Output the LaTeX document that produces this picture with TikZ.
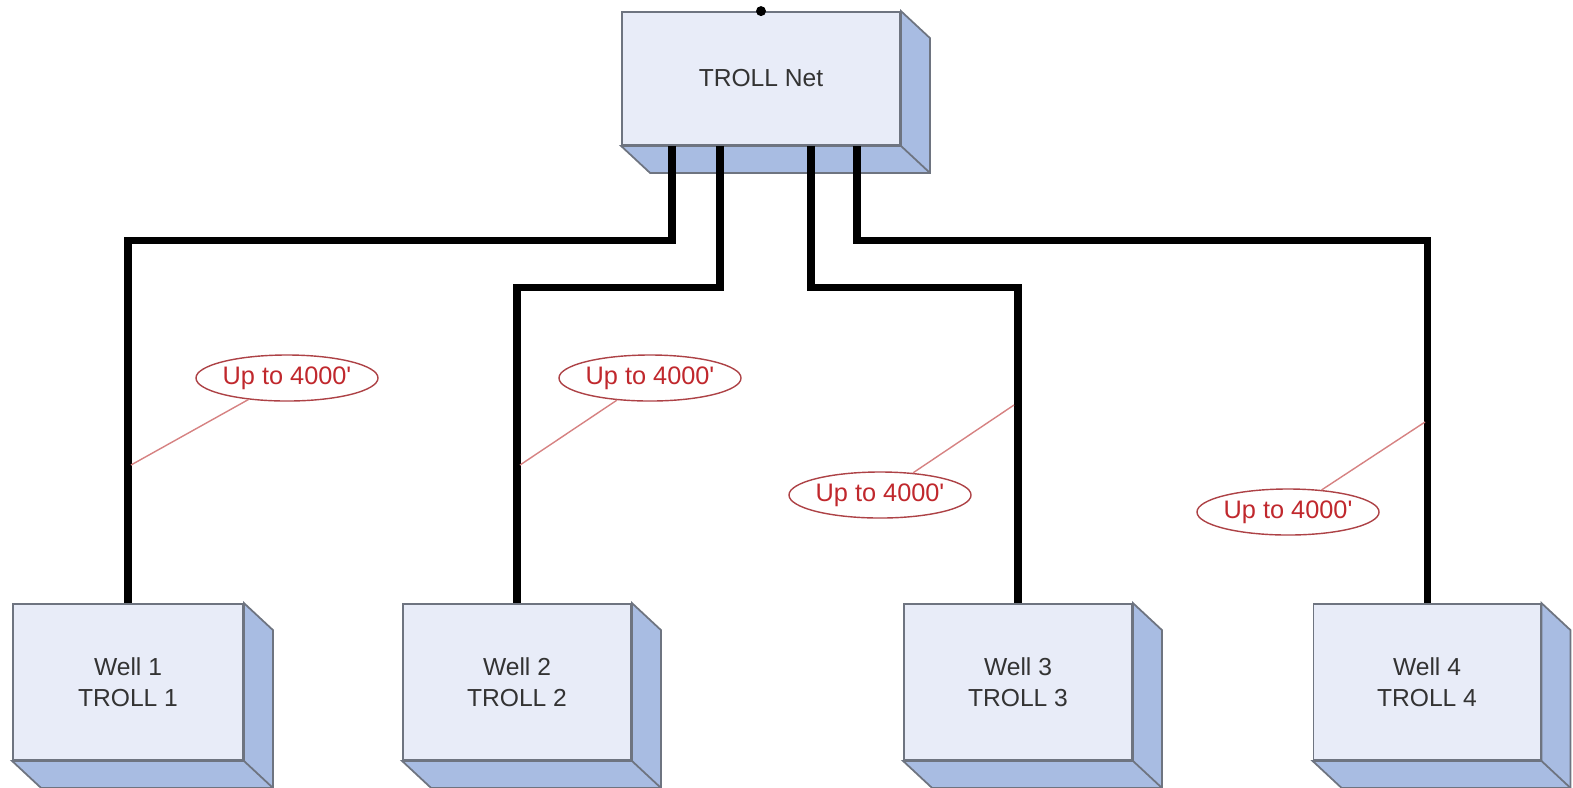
\documentclass[tikz,border=0pt]{standalone}
\usepackage{fontspec}
\setmainfont{Liberation Sans}
\usetikzlibrary{calc,shapes.geometric}

\definecolor{boxfront}{RGB}{232,236,248}
\definecolor{boxside}{RGB}{168,188,226}
\definecolor{boxline}{RGB}{110,116,128}
\definecolor{calloutred}{RGB}{192,40,45}
\definecolor{leaderred}{RGB}{214,130,130}

\tikzset{
  unit/.style={draw=boxline, fill=boxfront, line width=0.5pt, inner sep=0pt,
    align=center, text=black!80, font=\fontsize{7}{8.8}\selectfont},
  face/.style={draw=boxline, fill=boxside, line width=0.5pt},
  cable/.style={line width=2pt, line join=miter},
  callout/.style={ellipse, draw=calloutred!70!gray, line width=0.4pt, inner sep=0pt,
    minimum width=1.7cm, minimum height=0.46cm, text=calloutred,
    font=\fontsize{7.2}{8}\selectfont},
  leader/.style={draw=leaderred, line width=0.4pt}
}

\begin{document}
\begin{tikzpicture}[x=0.01cm, y=-0.01cm]
\useasboundingbox (0,0) rectangle (1573,787);

% boxes
\node[unit, minimum width=2.78cm, minimum height=1.33cm] (net) at (761,78.5) {TROLL Net};
\node[unit, minimum width=2.30cm, minimum height=1.56cm] (w1) at (128,682) {Well 1\\TROLL 1};
\node[unit, minimum width=2.28cm, minimum height=1.56cm] (w2) at (517,682) {Well 2\\TROLL 2};
\node[unit, minimum width=2.28cm, minimum height=1.56cm] (w3) at (1018,682) {Well 3\\TROLL 3};
\node[unit, minimum width=2.27cm, minimum height=1.56cm] (w4) at (1427,682) {Well 4\\TROLL 4};

% 3d sides
\foreach \n in {net,w1,w2,w3,w4} {
  \draw[face] (\n.north east) -- ++(29,27) -- ([shift={(29,27)}]\n.south east)
    -- ([shift={(29,27)}]\n.south west) -- (\n.south west) -- (\n.south east) -- cycle;
  \draw[boxline, line width=0.5pt] (\n.south east) -- ++(29,27);
}
\fill (net.north) circle (5);

% cables
\coordinate (p1) at ($(net.south)+(-89,0)$);
\coordinate (p2) at ($(net.south)+(-41,0)$);
\coordinate (p3) at ($(net.south)+(50,0)$);
\coordinate (p4) at ($(net.south)+(96,0)$);

\draw[cable] (p1) -- ++(0,95) -| (w1.north);
\draw[cable] (p2) -- ++(0,142) -| (w2.north);
\draw[cable] (p3) -- ++(0,142) -| (w3.north);
\draw[cable] (p4) -- ++(0,95) -| (w4.north);

% length callouts
\node[callout] (c1) at (287,378) {Up to 4000\textquotesingle};
\node[callout] (c2) at (650,378) {Up to 4000\textquotesingle};
\node[callout] (c3) at (880,495) {Up to 4000\textquotesingle};
\node[callout] (c4) at (1288,512) {Up to 4000\textquotesingle};

\coordinate (k1) at (131,465);
\coordinate (k2) at (520,465);
\coordinate (k3) at (1014,405);
\coordinate (k4) at (1425,422);

\draw[leader] (c1) -- (k1);
\draw[leader] (c2) -- (k2);
\draw[leader] (c3) -- (k3);
\draw[leader] (c4) -- (k4);
\end{tikzpicture}
\end{document}
